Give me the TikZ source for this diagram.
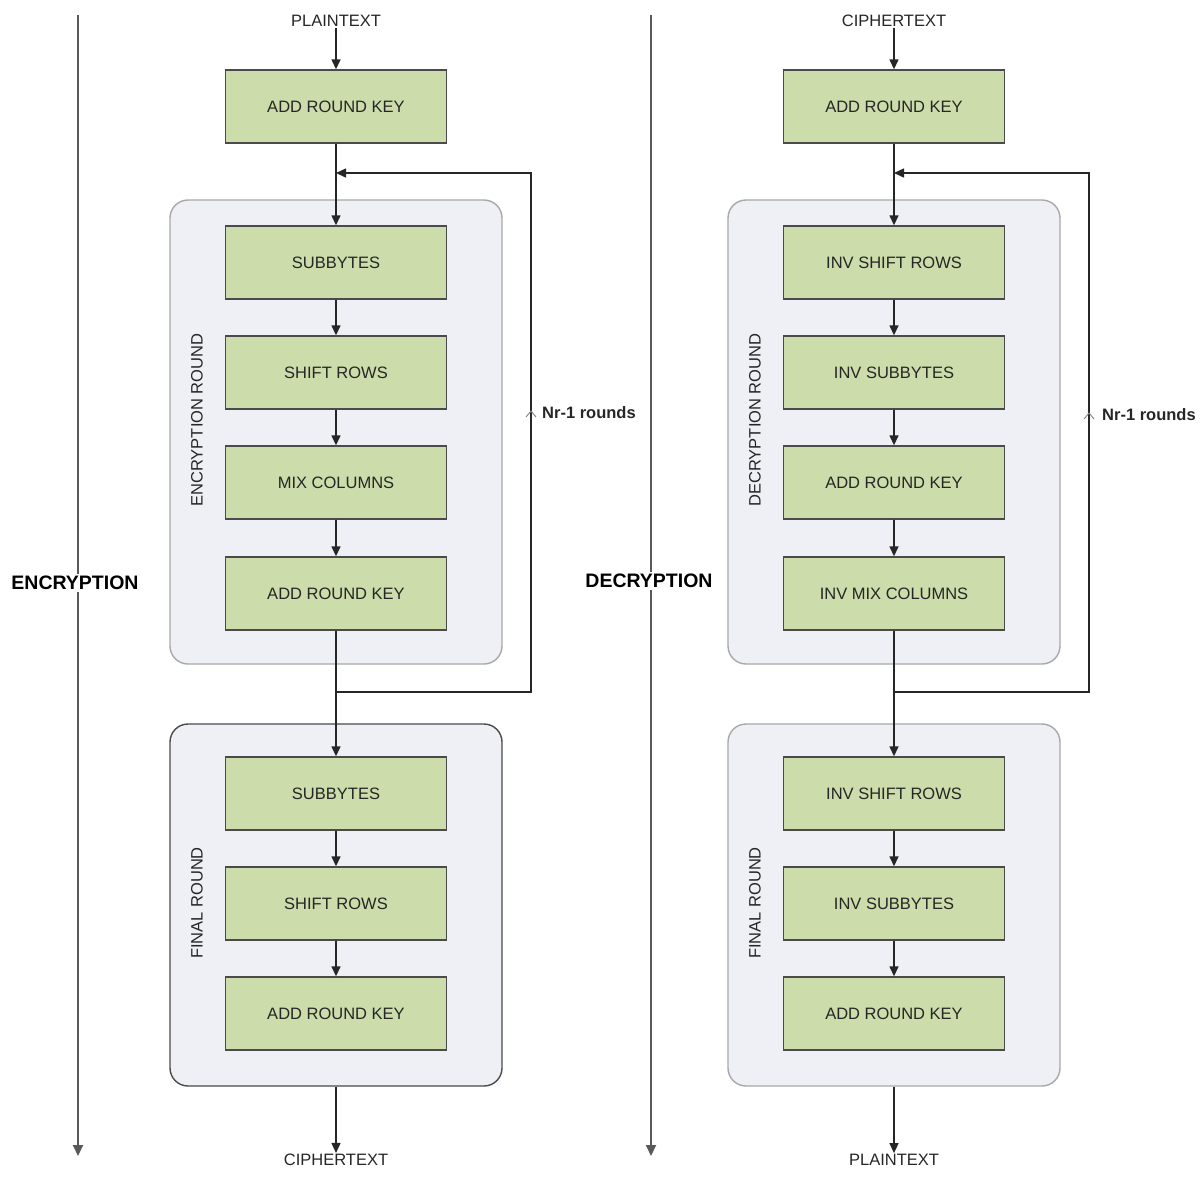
\documentclass[tikz,border=0pt]{standalone}
\usepackage{fontspec}
\setmainfont{Liberation Sans}
\usetikzlibrary{arrows.meta}
\definecolor{boxgreen}{HTML}{CCDCAA}
\definecolor{roundfill}{HTML}{EEF0F5}
\definecolor{roundline}{HTML}{A8A8A8}
\definecolor{darkline}{HTML}{4A4A4A}
\tikzset{
  stepbox/.style={draw=darkline,line width=1.4pt,fill=boxgreen,minimum width=221pt,
    minimum height=73pt,inner sep=0pt,font=\fontsize{16.5}{19}\selectfont,text=black!85},
  roundbox/.style={draw=roundline,line width=1.4pt,fill=roundfill,rounded corners=18pt,
    minimum width=332pt,inner sep=0pt},
  flow/.style={-{Triangle[length=10pt,width=9pt]},line width=1.4pt,black!85},
  loopline/.style={line width=1.4pt,black!75},
  sidearrow/.style={-{Triangle[length=11pt,width=10pt]},line width=1.8pt,black!65},
  lbl/.style={font=\fontsize{16.5}{19}\selectfont,text=black!85,inner sep=1pt},
  biglbl/.style={font=\fontsize{19.5}{22}\selectfont\bfseries,fill=white,inner sep=2pt},
}
\begin{document}
\begin{tikzpicture}[x=1pt,y=-1pt]
  \useasboundingbox (0,0) rectangle (1204,1176);
  % Side arrows
  \coordinate (etop) at (78,15);
  \coordinate (ebot) at (78,1156);
  \coordinate (dtop) at (651,15);
  \coordinate (dbot) at (651,1156);
  \draw[sidearrow] (etop) -- (ebot);
  \draw[sidearrow] (dtop) -- (dbot);
  \node[biglbl] (enc) at (75,583) {ENCRYPTION};
  \node[biglbl] (dec) at (649,581) {DECRYPTION};

  % ===== Encryption =====
  \node[roundbox,minimum height=464pt] (eround) at (336,432) {};
  \node[roundbox,draw=darkline,minimum height=362pt] (efinal) at (336,905) {};
  \node[lbl,rotate=90] (eroundlbl) at (197,420) {ENCRYPTION ROUND};
  \node[lbl,rotate=90] (efinallbl) at (197,903) {FINAL ROUND};
  \node[lbl] (ein) at (336,21) {PLAINTEXT};
  \node[stepbox] (e0) at (336,106.5) {ADD ROUND KEY};
  \node[stepbox] (e1) at (336,262.5) {SUBBYTES};
  \node[stepbox] (e2) at (336,372.5) {SHIFT ROWS};
  \node[stepbox] (e3) at (336,482.5) {MIX COLUMNS};
  \node[stepbox] (e4) at (336,593.5) {ADD ROUND KEY};
  \node[stepbox] (f1) at (336,793.5) {SUBBYTES};
  \node[stepbox] (f2) at (336,903.5) {SHIFT ROWS};
  \node[stepbox] (f3) at (336,1013.5) {ADD ROUND KEY};
  \node[lbl] (eout) at (336,1160) {CIPHERTEXT};
  \coordinate (ejoin) at (336,173);
  \coordinate (esplit) at (336,692);
  \draw[flow] (ein) -- (e0);
  \draw[flow] (e0) -- (e1);
  \draw[flow] (e1) -- (e2);
  \draw[flow] (e2) -- (e3);
  \draw[flow] (e3) -- (e4);
  \draw[flow] (e4) -- (f1);
  \draw[flow] (f1) -- (f2);
  \draw[flow] (f2) -- (f3);
  \draw[flow] (efinal) -- (eout);
  % loop back
  \draw[flow] (esplit) -- +(195,0) |- (ejoin);
  \draw[gray,line width=0.9pt] (526,417) -- (531,411) -- (536,417);
  \node[lbl,anchor=west,font=\fontsize{16.5}{19}\selectfont\bfseries] (enr) at (541,413) {Nr-1 rounds};

  % ===== Decryption =====
  \node[roundbox,minimum height=464pt] (dround) at (894,432) {};
  \node[roundbox,minimum height=362pt] (dfinal) at (894,905) {};
  \node[lbl,rotate=90] (droundlbl) at (755,420) {DECRYPTION ROUND};
  \node[lbl,rotate=90] (dfinallbl) at (755,903) {FINAL ROUND};
  \node[lbl] (din) at (894,21) {CIPHERTEXT};
  \node[stepbox] (d0) at (894,106.5) {ADD ROUND KEY};
  \node[stepbox] (d1) at (894,262.5) {INV SHIFT ROWS};
  \node[stepbox] (d2) at (894,372.5) {INV SUBBYTES};
  \node[stepbox] (d3) at (894,482.5) {ADD ROUND KEY};
  \node[stepbox] (d4) at (894,593.5) {INV MIX COLUMNS};
  \node[stepbox] (g1) at (894,793.5) {INV SHIFT ROWS};
  \node[stepbox] (g2) at (894,903.5) {INV SUBBYTES};
  \node[stepbox] (g3) at (894,1013.5) {ADD ROUND KEY};
  \node[lbl] (dout) at (894,1160) {PLAINTEXT};
  \coordinate (djoin) at (894,173);
  \coordinate (dsplit) at (894,692);
  \draw[flow] (din) -- (d0);
  \draw[flow] (d0) -- (d1);
  \draw[flow] (d1) -- (d2);
  \draw[flow] (d2) -- (d3);
  \draw[flow] (d3) -- (d4);
  \draw[flow] (d4) -- (g1);
  \draw[flow] (g1) -- (g2);
  \draw[flow] (g2) -- (g3);
  \draw[flow] (dfinal) -- (dout);
  % loop back
  \draw[flow] (dsplit) -- +(195,0) |- (djoin);
  \draw[gray,line width=0.9pt] (1084,419) -- (1089,413) -- (1094,419);
  \node[lbl,anchor=west,font=\fontsize{16.5}{19}\selectfont\bfseries] (dnr) at (1101,415) {Nr-1 rounds};
\end{tikzpicture}
\end{document}
